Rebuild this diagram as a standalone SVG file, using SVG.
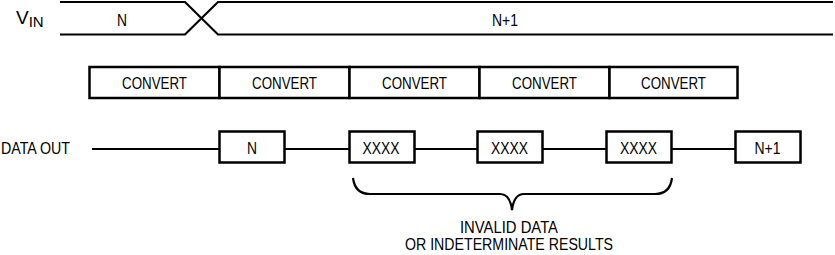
<svg xmlns="http://www.w3.org/2000/svg" width="835" height="255" viewBox="0 0 835 255">
<style>
text{font-family:"Liberation Sans",Arial,sans-serif;font-size:16.5px;fill:#000}
.c{text-anchor:middle}
.box{fill:#fff;stroke:#000;stroke-width:2.5}
.ln{fill:none;stroke:#000;stroke-width:2.2}
</style>
<rect width="835" height="255" fill="#fff"/>
<g id="vin">
<text x="16" y="24" style="font-size:19px">V<tspan dy="3" style="font-size:15px">IN</tspan></text>
<path class="ln" d="M60,2 H185 L218,34.5 H833"/>
<path class="ln" d="M60,34.5 H185 L218,2 H833"/>
<text class="c" x="122" y="26" textLength="10" lengthAdjust="spacingAndGlyphs">N</text>
<text class="c" x="505" y="26" textLength="26" lengthAdjust="spacingAndGlyphs">N+1</text>
</g>
<g id="convert">
<rect class="box" x="89.5" y="67" width="130" height="31"/>
<rect class="box" x="219.5" y="67" width="130" height="31"/>
<rect class="box" x="349.5" y="67" width="130" height="31"/>
<rect class="box" x="479.5" y="67" width="130" height="31"/>
<rect class="box" x="609.5" y="67" width="128" height="31"/>
<text class="c" x="154.5" y="89" textLength="65" lengthAdjust="spacingAndGlyphs">CONVERT</text>
<text class="c" x="284.5" y="89" textLength="65" lengthAdjust="spacingAndGlyphs">CONVERT</text>
<text class="c" x="414.5" y="89" textLength="65" lengthAdjust="spacingAndGlyphs">CONVERT</text>
<text class="c" x="544.5" y="89" textLength="65" lengthAdjust="spacingAndGlyphs">CONVERT</text>
<text class="c" x="673.5" y="89" textLength="65" lengthAdjust="spacingAndGlyphs">CONVERT</text>
</g>
<g id="connectors">
<path class="ln" d="M92,149 H220 M284,149 H350 M414,149 H478 M542,149 H607 M672,149 H736"/>
</g>
<g id="dataout">
<text x="1" y="154" textLength="69" lengthAdjust="spacingAndGlyphs">DATA OUT</text>
<rect class="box" x="219.5" y="131.5" width="65" height="31"/>
<text class="c" x="252" y="154" textLength="10" lengthAdjust="spacingAndGlyphs">N</text>
<rect class="box" x="349.5" y="131.5" width="65" height="31"/>
<text class="c" x="381" y="154" textLength="37" lengthAdjust="spacingAndGlyphs">XXXX</text>
<rect class="box" x="477.5" y="131.5" width="65" height="31"/>
<text class="c" x="509.5" y="154" textLength="37" lengthAdjust="spacingAndGlyphs">XXXX</text>
<rect class="box" x="606.5" y="131.5" width="65" height="31"/>
<text class="c" x="638.5" y="154" textLength="37" lengthAdjust="spacingAndGlyphs">XXXX</text>
<rect class="box" x="735.5" y="131.5" width="65" height="31"/>
<text class="c" x="767.5" y="154" textLength="26" lengthAdjust="spacingAndGlyphs">N+1</text>
</g>
<g id="brace">
<path class="ln" stroke-width="2.5" d="M353,178 Q355,194 370,194 L500,194 Q510,194 512,210 Q514,194 524,194 L655,194 Q670,194 672,178"/>
<text class="c" x="509" y="233" textLength="98" lengthAdjust="spacingAndGlyphs">INVALID DATA</text>
<text class="c" x="509" y="250" textLength="208" lengthAdjust="spacingAndGlyphs">OR INDETERMINATE RESULTS</text>
</g>
</svg>
